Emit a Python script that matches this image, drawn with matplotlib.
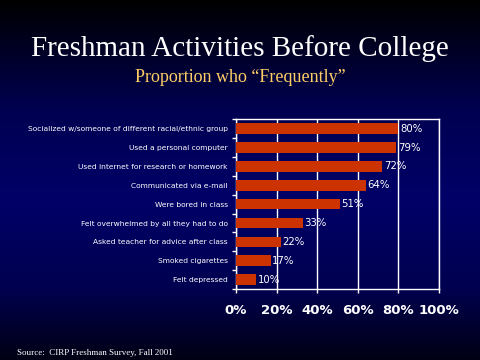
import matplotlib.pyplot as plt
import numpy as np
from matplotlib.colors import LinearSegmentedColormap

activities = ['Socialized w/someone of different racial/ethnic group',
              'Used a personal computer',
              'Used internet for research or homework',
              'Communicated via e-mail',
              'Were bored in class',
              'Felt overwhelmed by all they had to do',
              'Asked teacher for advice after class',
              'Smoked cigarettes',
              'Felt depressed']
percents = [80, 79, 72, 64, 51, 33, 22, 17, 10]
xticks = [0, 20, 40, 60, 80, 100]

fig = plt.figure(figsize=(4.8, 3.6), dpi=100)

# background gradient: black at top, navy in the middle, dark at the bottom
bg = fig.add_axes([0, 0, 1, 1], zorder=0)
cmap = LinearSegmentedColormap.from_list(
    'bg', [(0.0, '#000000'), (0.3, '#000050'), (0.55, '#000068'),
           (0.8, '#000050'), (1.0, '#000014')])
grad = np.linspace(0, 1, 256).reshape(-1, 1)
bg.imshow(grad, aspect='auto', cmap=cmap, extent=[0, 1, 0, 1])
bg.axis('off')

ax = fig.add_axes([0.4917, 0.1972, 0.4229, 0.4714], zorder=1)
ax.set_facecolor('none')
y = np.arange(len(activities))
ax.barh(y, percents, height=0.56, color='#CC3300', zorder=3)
ax.set_ylim(len(activities) - 0.5, -0.5)
ax.set_xlim(0, 100)

for yi, p in zip(y, percents):
    ax.text(p + 0.8, yi, f'{p}%', color='white', fontsize=7.3,
            va='center', ha='left', zorder=4)

ax.set_xticks(xticks)
ax.set_xticklabels([f'{t}%' for t in xticks], color='white',
                   fontsize=9.5, fontweight='bold')
ax.set_yticks(y)
ax.set_yticklabels(activities, color='white', fontsize=5.4)
ax.set_yticks(np.arange(len(activities) + 1) - 0.5, minor=True)
ax.tick_params(axis='y', which='major', length=0, pad=6)
ax.tick_params(axis='y', which='minor', length=3, color='white', width=1)
ax.tick_params(axis='x', length=3, color='white', width=1, pad=8)
ax.grid(axis='x', color='white', linewidth=1, zorder=1)
for s in ax.spines.values():
    s.set_color('white')
    s.set_linewidth(1)

fig.text(0.5, 0.865, 'Freshman Activities Before College', color='white',
         fontsize=21, family='Liberation Serif', ha='center', va='center')
fig.text(0.5, 0.785, 'Proportion who \u201cFrequently\u201d', color='#FFCC66',
         fontsize=13, family='Liberation Serif', ha='center', va='center')
fig.text(0.035, 0.02, 'Source:  CIRP Freshman Survey, Fall 2001',
         color='white', fontsize=6.5, family='Liberation Serif',
         ha='left', va='center')

fig.savefig('out.png', dpi=100)
